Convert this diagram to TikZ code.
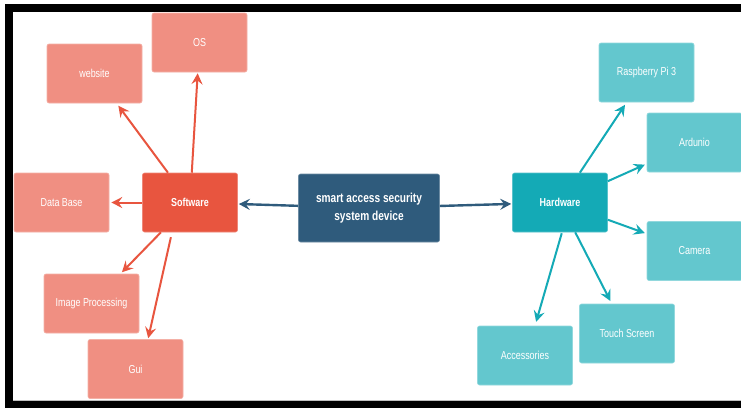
\documentclass[tikz,border=0pt]{standalone}
\usepackage{fontspec}
\setmainfont{Liberation Sans}[FakeStretch=0.78]
\usetikzlibrary{arrows.meta}
\definecolor{swdark}{HTML}{E8553F}
\definecolor{swlight}{HTML}{F08F82}
\definecolor{navy}{HTML}{2F5B7C}
\definecolor{hwdark}{HTML}{14AAB6}
\definecolor{hwlight}{HTML}{63C7CE}
\tikzset{
  box/.style={rounded corners=2pt, minimum width=95pt, minimum height=59pt, inner sep=0pt,
    align=center, text=white, font=\fontsize{11.5}{13}\selectfont, line width=0.6pt},
  swchild/.style={box, fill=swlight, draw=swlight!70!white},
  hwchild/.style={box, fill=hwlight, draw=hwlight!70!white},
  swmain/.style={box, fill=swdark, draw=swdark!70!white, font=\fontsize{11.5}{13}\selectfont\bfseries},
  hwmain/.style={box, fill=hwdark, draw=hwdark!70!white, font=\fontsize{11.5}{13}\selectfont\bfseries},
  rootbox/.style={box, fill=navy, draw=navy!70!white, minimum width=141pt, minimum height=68pt,
    font=\fontsize{13}{18}\selectfont\bfseries},
  tip/.style={-{Stealth[length=11pt,width=11pt,inset=4pt]}},
  swarrow/.style={tip, draw=swdark, line width=2pt},
  hwarrow/.style={tip, draw=hwdark, line width=2pt},
  rootarrow/.style={tip, draw=navy, line width=2.4pt},
}
\begin{document}
\begin{tikzpicture}[x=1pt,y=-1pt]
\useasboundingbox (0,0) rectangle (741,408);
\fill[white] (0,0) rectangle (741,408);
\fill[black] (5,4) rectangle (741,408);
\fill[white] (13,12) rectangle (741,400.5);
\draw[gray!50, line width=0.6pt] (13,400.2) -- (741,400.2);

\node[rootbox] (root) at (369,208) {smart access security\\system device};
\node[swmain] (sw) at (190,202.5) {Software};
\node[hwmain] (hw) at (560,202.5) {Hardware};

\node[swchild] (web) at (94.5,73.5) {website};
\node[swchild] (os) at (199.5,42.5) {OS};
\node[swchild] (db) at (61.5,202.5) {Data Base};
\node[swchild] (img) at (91.5,303.5) {Image Processing};
\node[swchild] (gui) at (135.5,369) {Gui};

\node[hwchild] (rpi) at (646.5,72.5) {Raspberry Pi 3};
\node[hwchild] (ard) at (694.5,142.5) {Ardunio};
\node[hwchild] (cam) at (694.5,251) {Camera};
\node[hwchild] (touch) at (627,333.5) {Touch Screen};
\node[hwchild] (acc) at (525,355.5) {Accessories};

\draw[rootarrow, shorten >=1pt] (root) -- (sw);
\draw[rootarrow, shorten >=1pt] (root) -- (hw);

\draw[swarrow, shorten >=3pt] (sw) -- (web);
\draw[swarrow, shorten >=1pt] (sw) -- (os);
\draw[swarrow, shorten >=2pt] (sw) -- (db);
\draw[swarrow, shorten >=2pt] (sw) -- (img);
\draw[swarrow, shorten <=5pt, shorten >=1pt] ([xshift=-18pt]sw.south) -- ([xshift=12.5pt]gui.north);

\draw[hwarrow, shorten >=3pt] (hw) -- (rpi);
\draw[hwarrow, shorten >=2pt] (hw) -- (ard);
\draw[hwarrow, shorten >=2pt] (hw) -- (cam);
\draw[hwarrow, shorten >=3pt] (hw) -- (touch);
\draw[hwarrow, shorten <=1pt, shorten >=4pt] ([xshift=2pt]hw.south) -- ([xshift=10pt]acc.north);
\end{tikzpicture}
\end{document}
